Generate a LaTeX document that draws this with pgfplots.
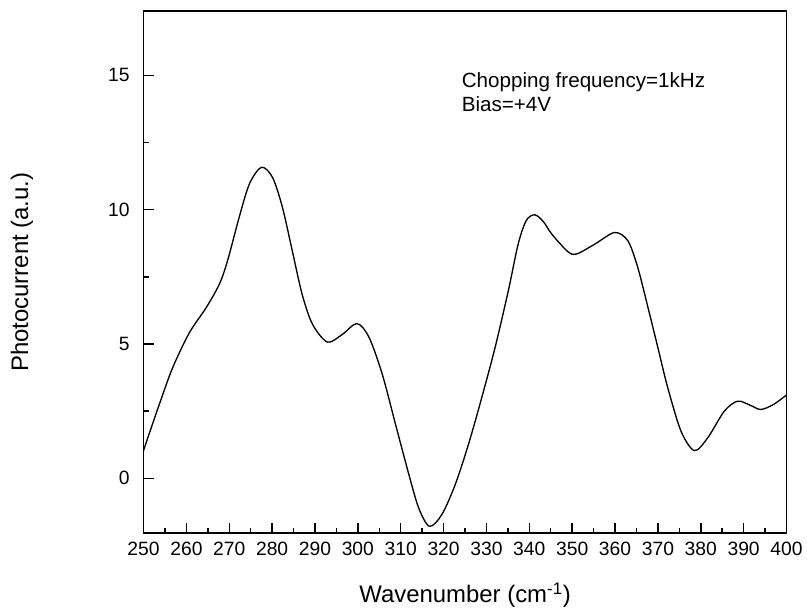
\documentclass[border=0pt]{standalone}
\usepackage{fontspec}
\setmainfont{Liberation Sans}
\usepackage{pgfplots}
\pgfplotsset{compat=1.18}
\begin{document}
\begin{tikzpicture}
\path (-108pt,-60pt) rectangle (497.25pt,401.25pt);
\begin{axis}[
  scale only axis,
  width=483.75pt, height=393pt,
  xmin=250, xmax=400, ymin=-2.05, ymax=17.4,
  axis line style={line width=1.4pt},
  xtick={250,260,...,400}, minor xtick={255,265,...,395},
  ytick={0,5,10,15}, minor ytick={2.5,7.5,12.5},
  xtick pos=bottom, ytick pos=left,
  tick align=inside,
  major tick length=8pt, minor tick length=4pt,
  every tick/.style={black, line width=1.1pt},
  /pgf/number format/assume math mode=true,
  /pgf/number format/1000 sep={},
  tick label style={font=\fontsize{14.5}{16}\selectfont},
  xticklabel style={yshift=-3pt},
  yticklabel style={xshift=-7pt},
  xlabel={Wavenumber (cm\textsuperscript{-1})},
  ylabel={Photocurrent (a.u.)},
  label style={font=\fontsize{18}{20}\selectfont},
  xlabel style={at={(axis description cs:0.5,-0.118)}, anchor=center},
  ylabel style={at={(axis description cs:-0.189,0.5)}, anchor=center},
]
\addplot[black, line width=1pt, smooth, tension=0.5] coordinates {
(250.0,1.0) (250.2,1.13) (253.7,2.76) (256.8,4.12) (260.7,5.42) (264.6,6.35)
(267.7,7.23) (269.6,8.1) (272.3,9.71) (274.7,10.96) (277.5,11.58) (280.1,11.2)
(282.4,10.09) (284.7,8.47) (287.0,6.85) (289.4,5.74) (292.9,5.07) (296.4,5.36)
(299.8,5.76) (302.6,5.25) (305.7,3.87) (308.8,2.0) (311.9,0.14) (314.2,-1.11)
(316.7,-1.79) (319.6,-1.35) (322.7,-0.24) (325.8,1.26) (328.9,3.0) (332.0,4.86)
(335.1,6.98) (337.4,8.72) (339.3,9.6) (341.3,9.81) (343.3,9.55) (345.2,9.1) (348.9,8.45) (351.0,8.35)
(355.3,8.72) (359.9,9.15) (363.0,8.84) (365.3,7.85) (367.7,6.35) (370.0,4.86)
(372.3,3.37) (375.4,1.75) (378.5,1.03) (381.6,1.5) (385.5,2.5) (388.6,2.87)
(391.5,2.72) (394.0,2.56) (397.0,2.75) (400.0,3.1)
};
\node[anchor=north west, inner sep=0pt, align=left,
      font=\fontsize{15.5}{18}\selectfont] at (axis cs:324.2,15.1)
  {Chopping frequency=1kHz\\Bias=+4V};
\end{axis}
\end{tikzpicture}
\end{document}
